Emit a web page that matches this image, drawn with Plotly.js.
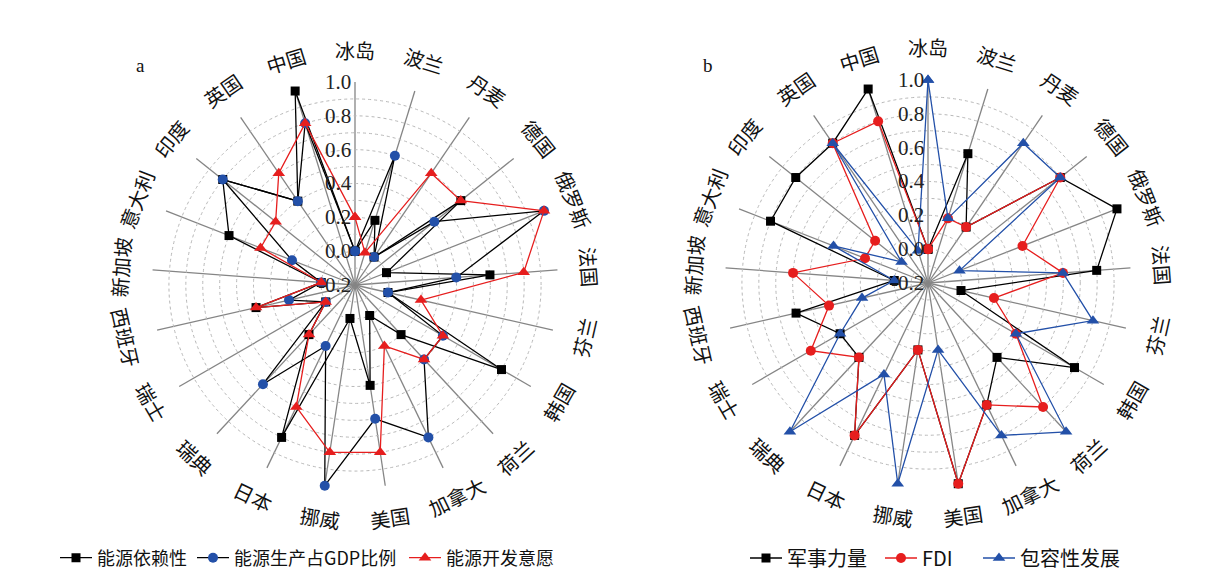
<!DOCTYPE html>
<html><head><meta charset="utf-8">
<script src="https://cdn.plot.ly/plotly-3.0.1.min.js"></script>
<style>html,body{margin:0;padding:0;background:#fff;}#chart{width:1212px;height:579px;}</style>
</head><body><div id="chart"></div>
<script>
// Categories (clockwise from top)
const countries = ['冰岛','波兰','丹麦','德国','俄罗斯','法国','芬兰','韩国','荷兰','加拿大','美国','挪威','日本','瑞典','瑞士','西班牙','新加坡','意大利','印度','英国','中国'];

// Panel a
const energyDependence = [0.0,0.2,0.0,0.6,0.0,0.6,0.0,0.8,0.2,0.0,0.4,0.0,0.8,0.2,0.0,0.4,0.0,0.6,0.8,0.4,1.0];
const energyGdpShare   = [0.0,0.6,0.0,0.4,1.0,0.4,0.0,0.4,0.4,0.8,0.6,1.0,0.2,0.6,0.0,0.2,0.0,0.2,0.8,0.4,0.8];
const energyWillingness= [0.2,0.0,0.6,0.6,1.0,0.8,0.2,0.4,0.4,0.2,0.8,0.8,0.6,0.2,0.0,0.4,0.0,0.4,0.4,0.6,0.8];

// Panel b
const militaryPower    = [0.0,0.6,0.2,0.8,1.0,0.8,0.0,0.8,0.4,0.6,1.0,0.2,0.8,0.4,0.4,0.6,0.0,0.8,0.8,0.8,1.0];
const fdi              = [0.0,0.2,0.2,0.8,0.4,0.6,0.2,0.4,0.8,0.6,1.0,0.2,0.8,0.4,0.6,0.4,0.6,0.2,0.2,0.8,0.8];
const inclusiveDev     = [1.0,0.2,0.8,0.8,0.0,0.6,0.8,0.4,1.0,0.8,0.2,1.0,0.4,1.0,0.4,0.2,0.0,0.4,0.0,0.8,0.0];

const radialTicks = [-0.2,-0.1,0.0,0.1,0.2,0.3,0.4,0.5,0.6,0.7,0.8,0.9,1.0];
const radialTickText = ['-0.2','','0.0','','0.2','','0.4','','0.6','','0.8','','1.0'];

const W = 1212, H = 579;
const close = a => a.concat([a[0]]);
const theta = close(countries);

const BLACK = '#000000', BLUE = '#2350a8', RED = '#e61e1e';

function tr(vals, name, sub, legend, lineColor, markerColor, symbol, size){
  return {type:'scatterpolar', mode:'lines+markers', r: close(vals), theta: theta,
    subplot: sub, legend: legend, name: name,
    line:{color: lineColor, width:1.3},
    marker:{color: markerColor, symbol: symbol, size: size},
    cliponaxis:false};
}

const data = [
  tr(energyDependence,'能源依赖性','polar','legend',BLACK,BLACK,'square',9),
  tr(energyGdpShare,'能源生产占GDP比例','polar','legend2',BLACK,BLUE,'circle',10),
  tr(energyWillingness,'能源开发意愿','polar','legend3',RED,RED,'triangle-up',11),
  tr(militaryPower,'军事力量','polar2','legend4',BLACK,BLACK,'square',9),
  tr(fdi,'FDI','polar2','legend5',RED,RED,'circle',10),
  tr(inclusiveDev,'包容性发展','polar2','legend6',BLUE,BLUE,'triangle-up',11)
];

// geometry of the two polar panels (pixel centres, radius)
const R = 203;
const panels = [{cx:355, cy:285}, {cx:928, cy:283}];
function domainOf(p){
  return {x:[(p.cx-R)/W,(p.cx+R)/W], y:[1-(p.cy+R)/H, 1-(p.cy-R)/H]};
}
function polarLayout(p){
  return {
    domain: domainOf(p), bgcolor:'#fff',
    radialaxis:{range:[-0.2,1.0], tickvals: radialTicks, ticktext: radialTickText,
      angle:90, side:'counterclockwise', tickangle:90, showline:false, ticks:'',
      gridcolor:'#b8b8b8', griddash:'dot', gridwidth:1,
      tickfont:{family:'Liberation Serif, serif', size:21, color:'#222'}},
    angularaxis:{type:'category', categoryarray: countries, rotation:90, direction:'clockwise',
      showticklabels:false, ticks:'', showline:false,
      gridcolor:'#858585', gridwidth:1.3}
  };
}

const annotations = [];
const LR = 235;
panels.forEach((p) => {
  countries.forEach((c, i) => {
    const ang = i*360/countries.length;
    const rad = ang*Math.PI/180;
    const px = p.cx + LR*Math.sin(rad), py = p.cy - LR*Math.cos(rad);
    let ta = ang;
    if (ang > 90 && ang < 270) ta = ang - 180; else if (ang >= 270) ta = ang - 360;
    annotations.push({xref:'paper', yref:'paper', x: px/W, y: 1-py/H, text: c, showarrow:false,
      xanchor:'center', yanchor:'middle', textangle: ta,
      font:{family:'Noto Sans CJK SC, sans-serif', size:20, color:'#111'}});
  });
});
annotations.push({xref:'paper',yref:'paper',x:140/W,y:1-66/H,text:'a',showarrow:false,xanchor:'center',yanchor:'middle',font:{family:'Liberation Serif, serif',size:19,color:'#111'}});
annotations.push({xref:'paper',yref:'paper',x:708/W,y:1-66/H,text:'b',showarrow:false,xanchor:'center',yanchor:'middle',font:{family:'Liberation Serif, serif',size:19,color:'#111'}});

function leg(xpx, fs){
  return {orientation:'h', x:xpx/W, y:1-558/H, xanchor:'left', yanchor:'middle',
    font:{family:'Noto Sans CJK SC, Liberation Serif, sans-serif', size:fs, color:'#111'},
    bgcolor:'rgba(0,0,0,0)', itemwidth:32};
}
const layout = {
  width: W, height: H, margin:{l:0,r:0,t:0,b:0, autoexpand:false},
  paper_bgcolor:'#fff', plot_bgcolor:'#fff', showlegend:true,
  polar: polarLayout(panels[0]),
  polar2: polarLayout(panels[1]),
  legend: leg(55,18), legend2: leg(192,18), legend3: leg(404,18),
  legend4: leg(745,20), legend5: leg(880,20), legend6: leg(978,20),
  annotations: annotations
};

Plotly.newPlot('chart', data, layout, {displayModeBar:false, staticPlot:true});
</script>
</body></html>
